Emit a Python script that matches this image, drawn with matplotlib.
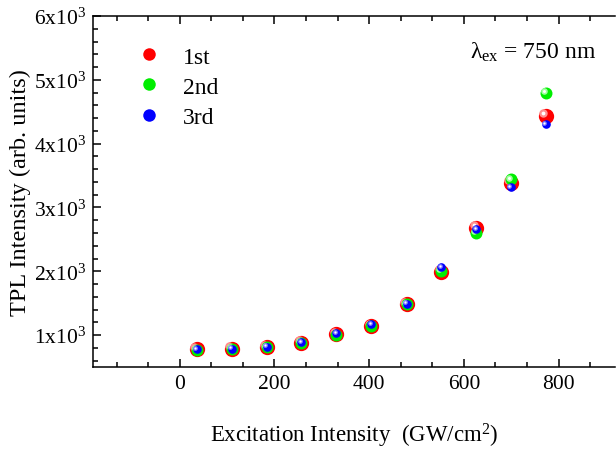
import matplotlib
matplotlib.use('Agg')
import matplotlib.pyplot as plt
import matplotlib.transforms as mtrans
from matplotlib.lines import Line2D
from matplotlib.ticker import FixedLocator

plt.rcParams['font.family'] = ['Liberation Serif', 'DejaVu Serif']
plt.rcParams['mathtext.fontset'] = 'custom'
plt.rcParams['mathtext.rm'] = 'Liberation Serif'
plt.rcParams['mathtext.it'] = 'Liberation Serif:italic'

excitation = [36, 110, 184, 257, 331, 405, 479, 552, 626, 699, 773]
run1 = [775, 785, 810, 880, 1010, 1140, 1480, 1990, 2680, 3385, 4440]
run2 = [770, 780, 805, 875, 1005, 1140, 1480, 2000, 2600, 3440, 4800]
run3 = [775, 785, 815, 890, 1030, 1170, 1490, 2065, 2655, 3320, 4310]
series_labels = ['1st', '2nd', '3rd']
xtick_vals = [0, 200, 400, 600, 800]
ytick_vals = [1000, 2000, 3000, 4000, 5000, 6000]
ytick_labels = [r'$\mathregular{%dx10^{3}}$' % (v // 1000) for v in ytick_vals]

colors = ['#ff0000', '#00ee00', '#0000ff']
lights = ['#ff9090', '#a0ffa0', '#8080ff']
sizes = [11, 8.6, 6.2]

fig = plt.figure(figsize=(6.16, 4.52), dpi=100)
ax = fig.add_axes([0.151, 0.186, 0.848, 0.776])

def sphere(x, y, color, light, size, z):
    ax.plot(x, y, 'o', ms=size, mfc=color, mec=color, mew=0, ls='none', zorder=z)
    off = mtrans.offset_copy(ax.transData, fig=fig, x=-size * 0.16, y=size * 0.16, units='points')
    ax.plot(x, y, 'o', ms=size * 0.55, mfc=light, mew=0, ls='none', transform=off, zorder=z + 0.1)
    ax.plot(x, y, 'o', ms=size * 0.25, mfc='white', mew=0, ls='none', transform=off, zorder=z + 0.2)

for i, ys in enumerate([run1, run2, run3]):
    sphere(excitation, ys, colors[i], lights[i], sizes[i], 3 + i)

handles = [Line2D([], [], marker='o', ls='none', ms=9, mfc=c, mec=c, mew=0) for c in colors]
ax.legend(handles, series_labels, loc='upper left', bbox_to_anchor=(0.044, 0.975), frameon=False,
          fontsize=17, handlelength=1.0, handletextpad=0.94, labelspacing=0.36)

ax.text(0.721, 0.883, r'$\mathregular{\lambda_{ex}}$ = 750 nm', transform=ax.transAxes,
        ha='left', va='baseline', fontsize=17)

ax.set_xlim(-183, 920)
ax.set_ylim(500, 6000)
ax.xaxis.set_major_locator(FixedLocator(xtick_vals))
ax.xaxis.set_minor_locator(FixedLocator([i * 200 / 3 for i in range(-3, 14)]))
ax.yaxis.set_major_locator(FixedLocator(ytick_vals))
ax.set_yticklabels(ytick_labels)
ax.yaxis.set_minor_locator(FixedLocator(list(range(600, 6000, 200))))

ax.tick_params(which='both', direction='in', top=True, right=False, width=1.1, labelsize=15.5)
ax.tick_params(which='major', length=6, pad=5)
ax.tick_params(which='minor', length=3.5)
for s in ['left', 'bottom', 'top']:
    ax.spines[s].set_linewidth(1.1)
ax.spines['right'].set_visible(False)

ax.set_xlabel(r'Excitation Intensity  (GW/cm$^\mathregular{2}$)', fontsize=16.5, labelpad=20)
ax.set_ylabel('TPL Intensity (arb. units)', fontsize=17.5, labelpad=2)

fig.savefig('out.png', dpi=100)
